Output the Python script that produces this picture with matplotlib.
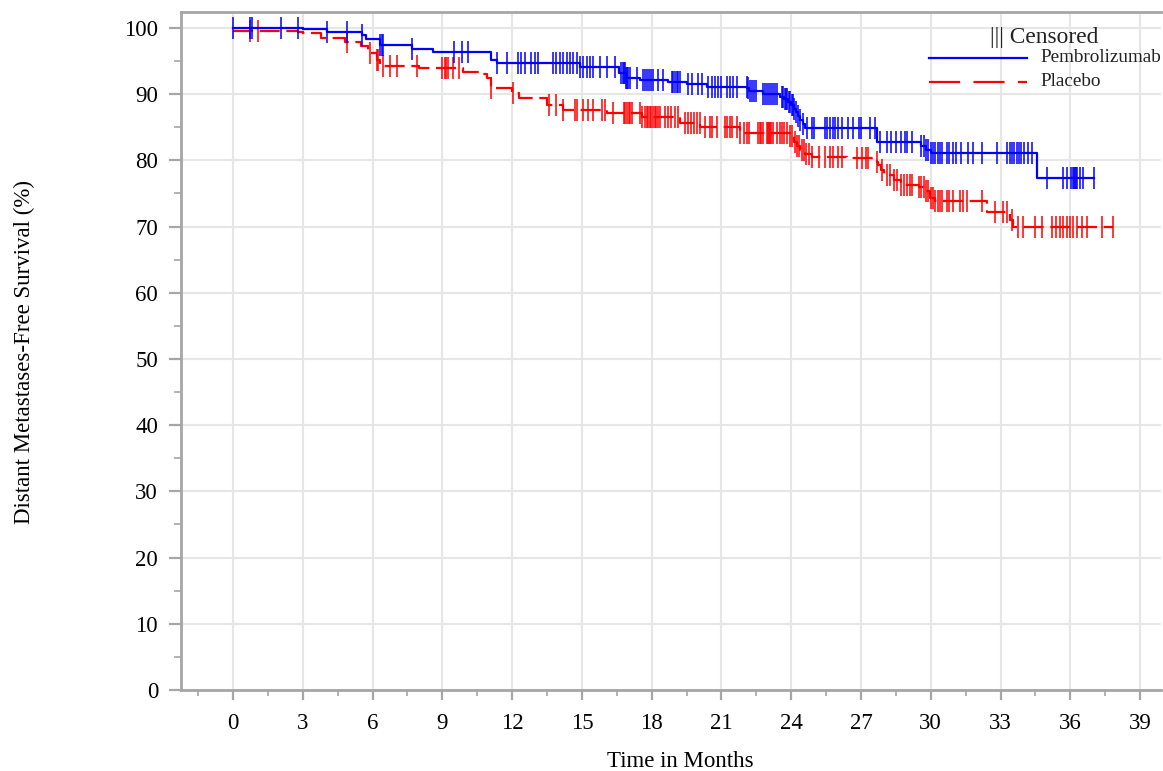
import numpy as np
import matplotlib
matplotlib.use("Agg")
import matplotlib.pyplot as plt
from matplotlib.lines import Line2D
from matplotlib.ticker import MultipleLocator

# ---------------- data ----------------
pem_times = [0, 3.0, 4.05, 5.55, 5.7, 6.3, 7.7, 8.6, 11.1, 11.35, 14.9, 16.6, 16.9, 17.5,
             18.7, 19.5, 20.4, 22.1, 22.2, 22.8, 23.5, 23.7, 23.85, 24.0, 24.1, 24.2,
             24.3, 24.4, 24.5, 24.6, 27.7, 29.6, 29.8, 30.0, 34.55]
pem_surv = [100, 99.8, 99.4, 98.9, 98.3, 97.4, 96.8, 96.3, 95.2, 94.7, 94.1, 93.2, 92.5, 92.2,
            91.9, 91.6, 91.1, 90.9, 90.4, 90.0, 89.6, 89.2, 88.8, 88.3, 87.8, 87.3,
            86.7, 86.1, 85.5, 84.9, 82.7, 82.2, 81.6, 81.1, 77.4]
pem_end = 37.0
pem_censor = [0.0, 0.73, 0.83, 2.06, 2.8, 4.05, 4.9, 5.55, 6.3, 6.4, 6.45, 7.7, 9.5, 9.85, 10.1,
              11.35, 11.8, 12.25, 12.4, 12.55, 12.8, 13.0, 13.1, 13.76, 13.9, 14.05, 14.2,
              14.35, 14.5, 14.6, 14.8, 14.9, 15.05, 15.2, 15.35, 15.5, 15.8, 16.07, 16.42,
              16.7, 16.75, 16.8, 16.85, 16.9, 16.95, 17.0, 17.07, 17.36, 17.64, 17.72, 17.8,
              17.88, 17.97, 18.07, 18.28, 18.5, 18.86, 18.93, 19.0, 19.07, 19.15, 19.22,
              19.57, 19.72, 20.0, 20.15, 20.43, 20.58, 20.72, 20.86, 21.0, 21.22, 21.37,
              21.5, 21.65, 22.08, 22.16, 22.24, 22.33, 22.42, 22.5, 22.8, 22.88, 22.96,
              23.04, 23.12, 23.2, 23.3, 23.4, 23.6, 23.66, 23.72, 23.78, 23.84, 23.9, 23.96,
              24.02, 24.08, 24.14, 24.2, 24.3, 24.4, 24.5, 24.7, 24.9, 25.0, 25.45, 25.56,
              25.67, 25.78, 25.9, 26.0, 26.2, 26.45, 26.65, 26.9, 27.0, 27.4, 27.6, 27.8,
              28.1, 28.3, 28.5, 28.7, 28.9, 29.0, 29.2, 29.6, 29.7, 29.8, 29.9, 30.0, 30.1,
              30.2, 30.3, 30.4, 30.5, 30.7, 30.8, 30.95, 31.1, 31.3, 31.6, 31.8, 32.2, 32.85,
              33.3, 33.4, 33.5, 33.6, 33.7, 33.8, 33.9, 34.0, 34.2, 34.35, 35.0, 35.7, 35.85,
              36.05, 36.1, 36.15, 36.2, 36.25, 36.3, 36.4, 36.55, 37.0]

pla_times = [0, 0.7, 2.8, 3.0, 3.8, 4.8, 5.5, 5.8, 6.2, 6.3, 8.0, 9.9, 10.6, 10.9, 11.1, 12.0,
             12.3, 13.5, 14.2, 16.1, 17.6, 19.2, 20.1, 21.8, 23.95, 24.1, 24.25, 24.4, 24.6,
             24.9, 26.4, 27.7, 27.75, 27.85, 28.0, 28.4, 28.7, 29.5, 29.75, 29.95, 30.2,
             32.4, 33.4, 33.55]
pla_surv = [99.6, 99.5, 99.4, 99.2, 98.5, 97.9, 97.2, 96.2, 95.2, 94.3, 93.9, 93.3, 93.1, 92.4,
            90.9, 90.1, 89.4, 88.4, 87.6, 87.2, 86.5, 85.6, 85.1, 84.1, 83.6, 82.8, 82.1,
            81.6, 81.0, 80.5, 80.3, 79.8, 79.3, 78.5, 77.8, 77.0, 76.3, 76.0, 75.3, 74.3,
            73.8, 72.2, 71.0, 70.0]
pla_end = 37.85
pla_censor = [0.73, 1.07, 4.9, 5.9, 6.2, 6.25, 6.45, 6.75, 7.05, 7.9, 9.0, 9.1, 9.15, 9.25, 9.45,
              9.7, 11.1, 12.05, 13.6, 13.9, 14.2, 14.7, 14.8, 15.05, 15.25, 15.5, 15.85, 16.0,
              16.35, 16.8, 16.87, 16.94, 17.01, 17.08, 17.15, 17.5, 17.6, 17.7, 17.8, 17.85,
              17.92, 17.99, 18.06, 18.13, 18.2, 18.27, 18.35, 18.57, 18.7, 18.85, 19.0, 19.13,
              19.43, 19.55, 19.68, 19.8, 19.95, 20.08, 20.3, 20.5, 20.6, 20.8, 21.15, 21.25,
              21.35, 21.45, 21.65, 21.8, 21.95, 22.1, 22.2, 22.57, 22.65, 22.72, 22.8, 22.95,
              23.0, 23.05, 23.1, 23.15, 23.2, 23.4, 23.5, 23.6, 23.7, 23.8, 23.95, 24.05,
              24.15, 24.25, 24.35, 24.45, 24.55, 24.65, 24.75, 24.9, 25.2, 25.45, 25.65, 25.8,
              26.0, 26.2, 26.85, 27.05, 27.2, 27.3, 27.7, 27.9, 28.1, 28.25, 28.4, 28.55,
              28.7, 28.85, 29.0, 29.1, 29.2, 29.5, 29.6, 29.7, 29.8, 29.9, 30.0, 30.1, 30.2,
              30.3, 30.4, 30.5, 30.7, 30.8, 30.95, 31.25, 31.4, 31.55, 32.2, 32.75, 33.1,
              33.3, 33.5, 33.75, 33.95, 34.5, 34.8, 35.2, 35.4, 35.55, 35.7, 35.85, 36.0,
              36.1, 36.3, 36.5, 36.7, 37.35, 37.85]

x_ticks = list(range(0, 40, 3))
y_ticks = list(range(0, 101, 10))
x_label = "Time in Months"
y_label = "Distant Metastases-Free Survival (%)"
legend_names = ["Pembrolizumab", "Placebo"]

BLUE = "#0000FF"
RED = "#FF0000"
GRAY = "#a6a6a6"

plt.rcParams['font.family'] = ['Liberation Serif', 'DejaVu Serif']

fig = plt.figure(figsize=(11.63, 7.71), dpi=100)
ax = fig.add_axes([181 / 1163, 1 - 690 / 771, (1161 - 181) / 1163, (690 - 12) / 771])
ax.set_xlim(-2.235, 39.9)
ax.set_ylim(0, 102.4)


def step_arrays(times, surv, end):
    t = np.append(np.asarray(times, float), end)
    s = np.append(np.asarray(surv, float), surv[-1])
    return t, s


def surv_at(times, surv, tc):
    idx = np.searchsorted(np.asarray(times, float), np.asarray(tc, float), side='right') - 1
    return np.asarray(surv, float)[np.clip(idx, 0, None)]


# grid
ax.grid(True, which='major', color='#e6e6e6', lw=1.5, zorder=0)
ax.set_axisbelow(True)

t, s = step_arrays(pem_times, pem_surv, pem_end)
ax.step(t, s, where='post', color=BLUE, lw=1.6, zorder=4)
ax.plot(pem_censor, surv_at(pem_times, pem_surv, pem_censor), ls='none', marker='|',
        ms=16, mew=1.1, color=BLUE, zorder=4)

t, s = step_arrays(pla_times, pla_surv, pla_end)
ax.step(t, s, where='post', color=RED, lw=1.6, dashes=(9, 3), zorder=3)
ax.plot(pla_censor, surv_at(pla_times, pla_surv, pla_censor), ls='none', marker='|',
        ms=16, mew=1.1, color=RED, zorder=3)

# ticks
ax.set_xticks(x_ticks)
ax.set_yticks(y_ticks)
ax.xaxis.set_minor_locator(MultipleLocator(1.5))
ax.yaxis.set_minor_locator(MultipleLocator(5))
ax.tick_params(which='major', width=1.6, color=GRAY, labelsize=16.5)
ax.tick_params(which='minor', width=1.2, color=GRAY)
ax.tick_params(axis='x', which='major', length=7.5, pad=9)
ax.tick_params(axis='x', which='minor', length=4)
ax.tick_params(axis='y', which='major', length=9, pad=7.5)
ax.tick_params(axis='y', which='minor', length=5)
ax.tick_params(top=False, right=False)

for side in ['left', 'bottom', 'top']:
    ax.spines[side].set_color(GRAY)
    ax.spines[side].set_linewidth(2)
ax.spines['right'].set_visible(False)

ax.set_xlabel(x_label, fontsize=16.5)
ax.xaxis.set_label_coords((680 - 181) / 980, (690 - 751) / 678)
ax.set_ylabel(y_label, fontsize=16.5)
ax.yaxis.set_label_coords((35 - 181) / 980, (690 - 352) / 678)

# legend (custom layout)
def fx(px):
    return (px - 181) / 980


def fy(py):
    return (690 - py) / 678


ax.text(fx(990), fy(37), "||| Censored", transform=ax.transAxes, fontsize=16.8,
        ha='left', va='center', color='#222222')
ax.add_line(Line2D([fx(929), fx(1027)], [fy(58), fy(58)], transform=ax.transAxes,
                   color=BLUE, lw=1.6))
ax.text(fx(1040), fy(58), legend_names[0], transform=ax.transAxes, fontsize=13.8,
        ha='left', va='center', color='#222222')
ax.add_line(Line2D([fx(929), fx(1027)], [fy(82), fy(82)], transform=ax.transAxes,
                   color=RED, lw=1.6, dashes=(14, 6)))
ax.text(fx(1040), fy(82), legend_names[1], transform=ax.transAxes, fontsize=13.8,
        ha='left', va='center', color='#222222')

fig.savefig("out.png", dpi=100)
